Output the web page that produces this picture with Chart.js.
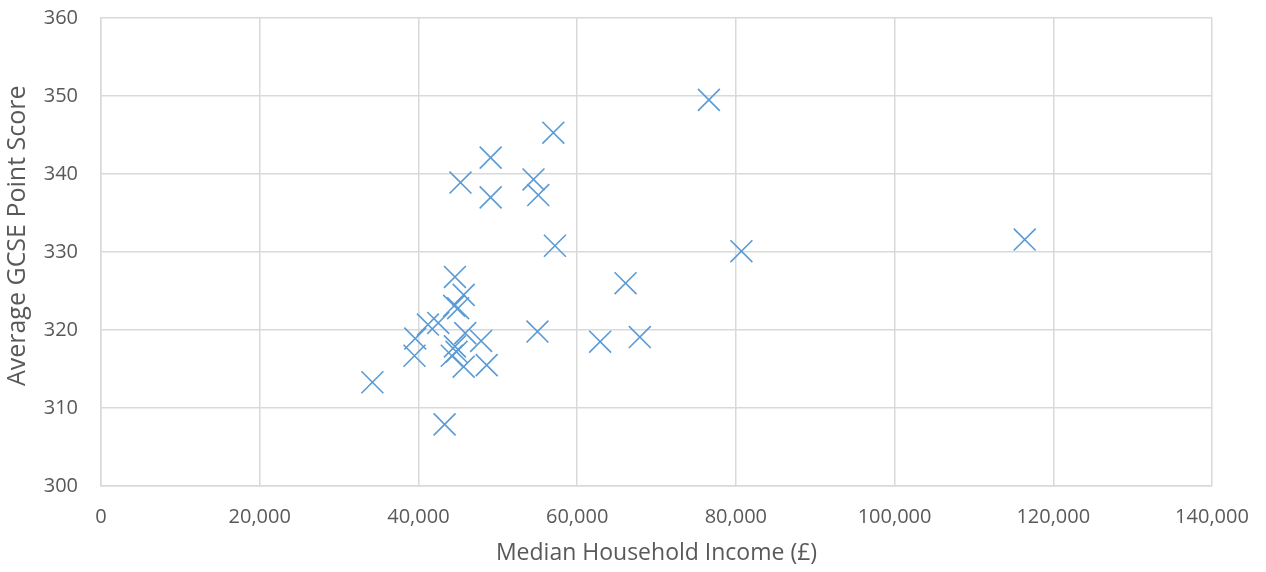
<!DOCTYPE html>
<html>
<head>
<meta charset="utf-8">
<script src="https://cdn.jsdelivr.net/npm/chart.js@4"></script>
<style>
  html, body { margin: 0; padding: 0; background: #fff; }
  #wrap { width: 1266px; height: 572px; }
</style>
</head>
<body>
<div id="wrap"><canvas id="myChart"></canvas></div>
<script>
// median household income (£)
const income = [
  44600, 45700, 44500, 45000, 42500, 41200, 39600, 39500, 45900, 47900,
  44600, 44800, 44200, 45700, 48600, 34200, 43300, 55000, 62900, 67900,
  66100, 76600, 80700, 116400, 57000, 49100, 45300, 49100, 54500, 55100,
  57200
];
// average GCSE point score
const score = [
  326.8, 324.5, 323.1, 322.8, 320.9, 320.7, 318.9, 316.7, 319.6, 318.6,
  317.9, 317.2, 316.7, 315.3, 315.5, 313.3, 307.9, 319.8, 318.5, 319.1,
  326.0, 349.5, 330.1, 331.6, 345.3, 342.1, 338.9, 337.0, 339.3, 337.3,
  330.8
];
const xTicks = [0, 20000, 40000, 60000, 80000, 100000, 120000, 140000];
const yTicks = [300, 310, 320, 330, 340, 350, 360];

const points = income.map(function (v, i) {
  return { x: v, y: score[i] };
});

const grey = '#595959';
const gridCol = '#d9d9d9';
const fontName = "'Open Sans', sans-serif";

let ctx = document.getElementById('myChart').getContext('2d');

let chart = new Chart(ctx, {
  type: 'scatter',
  data: {
    datasets: [
      {
        data: points,
        pointStyle: 'crossRot',
        pointRadius: 15.5,
        pointHoverRadius: 15.5,
        borderColor: '#5B9BD5',
        backgroundColor: '#5B9BD5',
        pointBorderWidth: 1.6,
      },
    ],
  },
  options: {
    responsive: true,
    maintainAspectRatio: false,
    animation: false,
    layout: {
      padding: { top: 18, right: 54, left: 0, bottom: 0 },
    },
    plugins: {
      legend: { display: false },
      tooltip: { enabled: false },
    },
    scales: {
      x: {
        type: 'linear',
        min: 0,
        max: 140000,
        afterBuildTicks: function (s) {
          s.ticks = xTicks.map(function (v) { return { value: v }; });
        },
        afterFit: function (s) {
          s.height = 86;
          s.paddingLeft = 0;
          s.paddingRight = 0;
        },
        grid: { color: gridCol, lineWidth: 1.5, drawTicks: false },
        border: { color: gridCol, width: 1.5 },
        ticks: {
          color: grey,
          padding: 19,
          maxRotation: 0,
          font: { family: fontName, size: 20 },
          callback: function (v) { return v.toLocaleString('en-GB'); },
        },
        title: {
          display: true,
          text: 'Median Household Income (£)',
          color: grey,
          font: { family: fontName, size: 23 },
          padding: { top: 0, bottom: 5 },
        },
      },
      y: {
        type: 'linear',
        min: 300,
        max: 360,
        afterBuildTicks: function (s) {
          s.ticks = yTicks.map(function (v) { return { value: v }; });
        },
        afterFit: function (s) {
          s.width = 101;
          s.paddingTop = 0;
          s.paddingBottom = 0;
        },
        grid: { color: gridCol, lineWidth: 1.5, drawTicks: false },
        border: { color: gridCol, width: 1.5 },
        ticks: {
          color: grey,
          padding: 23,
          font: { family: fontName, size: 20 },
        },
        title: {
          display: true,
          // leading spaces nudge the title up a little, like the original
          text: '     Average GCSE Point Score',
          color: grey,
          font: { family: fontName, size: 25 },
          padding: { top: 3, bottom: 0 },
        },
      },
    },
  },
});
</script>
</body>
</html>
